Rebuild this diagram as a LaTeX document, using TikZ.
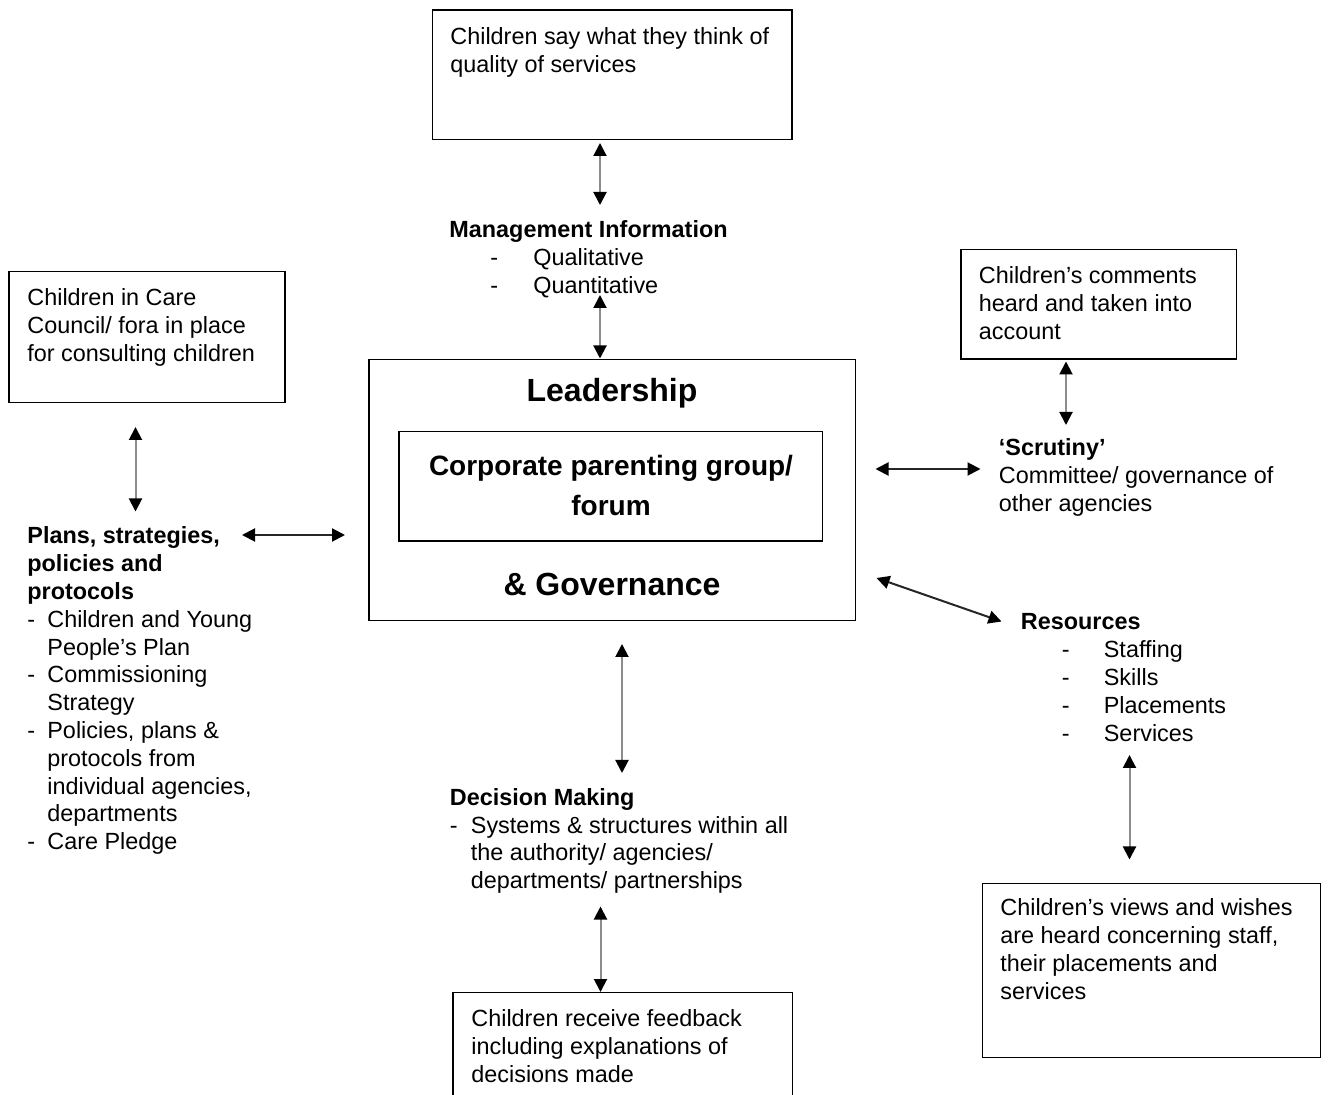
\documentclass[tikz,border=0pt]{standalone}
\usepackage{fontspec}
\setmainfont{Liberation Sans}
\usetikzlibrary{arrows.meta,fit}
\begin{document}
\begin{tikzpicture}[x=0.5pt,y=-0.5pt,
  box/.style={draw, line width=0.8pt, inner sep=0pt},
  txt/.style={anchor=north west, inner sep=0pt, align=left,
    font=\fontsize{11.7}{13.9}\selectfont, execute at begin node={\rule{0pt}{10pt}}},
  ttl/.style={anchor=base, inner sep=0pt, font=\fontsize{16}{19}\selectfont\bfseries},
  link/.style={line width=1pt, draw=black!45,
    {Triangle[length=6.5pt,width=6.5pt,color=black,fill=black]}-{Triangle[length=6.5pt,width=6.5pt,color=black,fill=black]}},
  hlink/.style={link, draw=black!85}]
\useasboundingbox (0,0) rectangle (1328,1095);
\clip (0,0) rectangle (1328,1095);

% ---- boxes
\coordinate (tb1) at (432.5,10); \coordinate (tb2) at (792,139.5);
\node[box, fit=(tb1)(tb2)] (topbox) {};
\coordinate (lb1) at (9,271.5); \coordinate (lb2) at (285,402.5);
\node[box, fit=(lb1)(lb2)] (leftbox) {};
\coordinate (rb1) at (961,249.5); \coordinate (rb2) at (1236.5,359);
\node[box, fit=(rb1)(rb2)] (rtbox) {};
\coordinate (cb1) at (369,359.5); \coordinate (cb2) at (855.5,620.5);
\node[box, fit=(cb1)(cb2)] (centre) {};
\coordinate (ib1) at (399,431.5); \coordinate (ib2) at (822.5,541);
\node[box, fit=(ib1)(ib2)] (inner) {};
\coordinate (bb1) at (453,992.5); \coordinate (bb2) at (792.5,1120);
\node[box, fit=(bb1)(bb2)] (botbox) {};
\coordinate (br1) at (982.5,883.5); \coordinate (br2) at (1320.5,1057.5);
\node[box, fit=(br1)(br2)] (brbox) {};

% ---- texts
\node[txt] (tTop) at (450,27) {Children say what they think of\\quality of services};
\node[txt] (tLeft) at (27,288.5) {Children in Care\\Council/ fora in place\\for consulting children};
\node[txt] (tRT) at (978.5,266.5) {Children’s comments\\heard and taken into\\account};
\node[txt] (tMgmt) at (449,220.5) {\textbf{Management Information}\\
  \hspace*{20.5pt}\makebox[21.5pt][l]{-}Qualitative\\
  \hspace*{20.5pt}\makebox[21.5pt][l]{-}Quantitative};
\node[txt] (tScr) at (998.5,438.5) {\textbf{‘Scrutiny’}\\Committee/ governance of\\other agencies};
\node[txt] (tRes) at (1020.5,613.5) {\textbf{Resources}\\
  \hspace*{20.5pt}\makebox[21pt][l]{-}Staffing\\
  \hspace*{20.5pt}\makebox[21pt][l]{-}Skills\\
  \hspace*{20.5pt}\makebox[21pt][l]{-}Placements\\
  \hspace*{20.5pt}\makebox[21pt][l]{-}Services};
\node[txt] (tPlans) at (27,526.5) {\textbf{Plans, strategies,}\\\textbf{policies and}\\\textbf{protocols}\\
  \makebox[10pt][l]{-}Children and Young\\\hspace*{10pt}People’s Plan\\
  \makebox[10pt][l]{-}Commissioning\\\hspace*{10pt}Strategy\\
  \makebox[10pt][l]{-}Policies, plans \&\\\hspace*{10pt}protocols from\\\hspace*{10pt}individual agencies,\\\hspace*{10pt}departments\\
  \makebox[10pt][l]{-}Care Pledge};
\node[txt] (tDec) at (449.5,788) {\textbf{Decision Making}\\
  \makebox[10.5pt][l]{-}Systems \& structures within all\\
  \hspace*{10.5pt}the authority/ agencies/\\
  \hspace*{10.5pt}departments/ partnerships};
\node[txt] (tBot) at (471,1009.5) {Children receive feedback\\including explanations of\\decisions made};
\node[txt] (tBR) at (1000,898.5) {Children’s views and wishes\\are heard concerning staff,\\their placements and\\services};

\node[ttl] (lead) at (612,401.5) {Leadership};
\node[ttl] (gov) at (612,595.7) {\& Governance};
\node[anchor=north, inner sep=0pt, align=center,
  font=\fontsize{14}{20}\selectfont\bfseries,
  execute at begin node={\rule{0pt}{12pt}}] (cpg) at (611,455) {Corporate parenting group/\\forum};

% ---- connector end points
\coordinate (a1s) at (600,143);   \coordinate (a1e) at (600,205);
\coordinate (a2s) at (600,295);   \coordinate (a2e) at (600,358.5);
\coordinate (a3s) at (135.5,427); \coordinate (a3e) at (135.5,511.5);
\coordinate (a4s) at (242,535);   \coordinate (a4e) at (345,535);
\coordinate (a5s) at (1066,361.5);\coordinate (a5e) at (1066,425);
\coordinate (a6s) at (875.5,469); \coordinate (a6e) at (980.5,469);
\coordinate (a7s) at (876.5,578); \coordinate (a7e) at (1001.5,621.5);
\coordinate (a8s) at (622,644);   \coordinate (a8e) at (622,773);
\coordinate (a9s) at (600.5,906.5);\coordinate (a9e) at (600.5,992);
\coordinate (a10s) at (1129.5,755);\coordinate (a10e) at (1129.5,859.5);

\draw[link] (a1s) -- (a1e);
\draw[link] (a2s) -- (a2e);
\draw[link] (a3s) -- (a3e);
\draw[hlink] (a4s) -- (a4e);
\draw[link] (a5s) -- (a5e);
\draw[hlink] (a6s) -- (a6e);
\draw[hlink] (a7s) -- (a7e);
\draw[link] (a8s) -- (a8e);
\draw[link] (a9s) -- (a9e);
\draw[link] (a10s) -- (a10e);
\end{tikzpicture}
\end{document}
